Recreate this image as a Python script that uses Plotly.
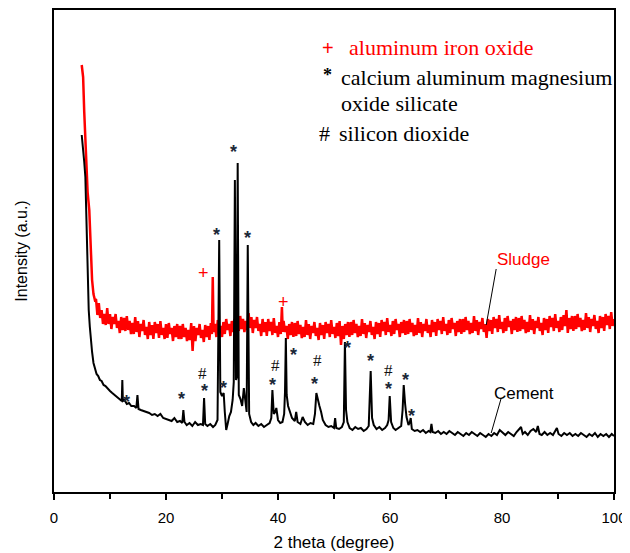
import plotly.graph_objects as go

# ---------------- data ----------------
sludge_x = [4.95, 5.2, 5.4, 5.65, 6.0, 6.3, 6.55, 6.8, 7.05, 7.3,
            7.5, 7.75, 8.0, 8.25, 8.5, 8.75, 9.0, 9.25, 9.5, 9.75,
            10.0, 10.25, 10.5, 10.75, 11.0, 11.25, 11.5, 11.75, 12.0, 12.25,
            12.5, 12.75, 13.0, 13.25, 13.5, 13.75, 14.0, 14.25, 14.5, 14.75,
            15.0, 15.25, 15.5, 15.75, 16.0, 16.25, 16.5, 16.75, 17.0, 17.25,
            17.5, 17.75, 18.0, 18.25, 18.5, 18.75, 19.0, 19.25, 19.5, 19.75,
            20.0, 20.25, 20.5, 20.75, 21.0, 21.25, 21.5, 21.75, 22.0, 22.25,
            22.5, 22.75, 23.0, 23.25, 23.5, 23.75, 24.0, 24.25, 24.5, 24.75,
            25.0, 25.25, 25.5, 25.75, 26.0, 26.25, 26.5, 26.75, 27.0, 27.25,
            27.5, 27.75, 28.0,
            28.2, 28.35, 28.5,
            28.75, 29.0, 29.25, 29.5, 29.75, 30.0, 30.25, 30.5,
            30.75, 31.0, 31.25, 31.5, 31.75, 32.0, 32.25, 32.5, 32.75, 33.0,
            33.25, 33.5, 33.75, 34.0, 34.25, 34.5, 34.75, 35.0, 35.25, 35.5,
            35.75, 36.0, 36.25, 36.5, 36.75, 37.0, 37.25, 37.5, 37.75, 38.0,
            38.25, 38.5, 38.75, 39.0, 39.25, 39.5, 39.75, 40.0, 40.25,
            40.5, 40.7, 40.85,
            41.0, 41.25, 41.5, 41.75, 42.0, 42.25, 42.5, 42.75, 43.0, 43.25,
            43.5, 43.75, 44.0, 44.25, 44.5, 44.75, 45.0, 45.25, 45.5, 45.75,
            46.0, 46.25, 46.5, 46.75, 47.0, 47.25, 47.5, 47.75, 48.0, 48.25,
            48.5, 48.75, 49.0, 49.25, 49.5, 49.75, 50.0, 50.25, 50.5, 50.75,
            51.0, 51.25, 51.5, 51.75, 52.0, 52.25, 52.5, 52.75, 53.0, 53.25,
            53.5, 53.75, 54.0, 54.25, 54.5, 54.75, 55.0, 55.25, 55.5, 55.75,
            56.0, 56.25, 56.5, 56.75, 57.0, 57.25, 57.5, 57.75, 58.0, 58.25,
            58.5, 58.75, 59.0, 59.25, 59.5, 59.75, 60.0, 60.25, 60.5, 60.75,
            61.0, 61.25, 61.5, 61.75, 62.0, 62.25, 62.5, 62.75, 63.0, 63.25,
            63.5, 63.75, 64.0, 64.25, 64.5, 64.75, 65.0, 65.25, 65.5, 65.75,
            66.0, 66.25, 66.5, 66.75, 67.0, 67.25, 67.5, 67.75, 68.0, 68.25,
            68.5, 68.75, 69.0, 69.25, 69.5, 69.75, 70.0, 70.25, 70.5, 70.75,
            71.0, 71.25, 71.5, 71.75, 72.0, 72.25, 72.5, 72.75, 73.0, 73.25,
            73.5, 73.75, 74.0, 74.25, 74.5, 74.75, 75.0, 75.25, 75.5, 75.75,
            76.0, 76.25, 76.5, 76.75, 77.0, 77.25, 77.5, 77.75, 78.0, 78.25,
            78.5, 78.75, 79.0, 79.25, 79.5, 79.75, 80.0, 80.25, 80.5, 80.75,
            81.0, 81.25, 81.5, 81.75, 82.0, 82.25, 82.5, 82.75, 83.0, 83.25,
            83.5, 83.75, 84.0, 84.25, 84.5, 84.75, 85.0, 85.25, 85.5, 85.75,
            86.0, 86.25, 86.5, 86.75, 87.0, 87.25, 87.5, 87.75, 88.0, 88.25,
            88.5, 88.75, 89.0, 89.25, 89.5, 89.75, 90.0, 90.25, 90.5, 90.75,
            91.0, 91.25, 91.5, 91.75, 92.0, 92.25, 92.5, 92.75, 93.0, 93.25,
            93.5, 93.75, 94.0, 94.25, 94.5, 94.75, 95.0, 95.25, 95.5, 95.75,
            96.0, 96.25, 96.5, 96.75, 97.0, 97.25, 97.5, 97.75, 98.0, 98.25,
            98.5, 98.75, 99.0, 99.25, 99.5, 99.75, 100.0]
sludge_y = [427, 415, 380, 349, 300, 282, 249, 212, 198, 192,
            193, 177, 189, 174, 182, 168, 178, 167, 184, 168,
            178, 163, 175, 168, 178, 164, 171, 159, 175, 162,
            174, 161, 176, 162, 171, 158, 169, 158, 175, 160,
            171, 155, 168, 161, 172, 157, 165, 153, 170, 157,
            167, 153, 170, 159, 168, 154, 171, 157, 164, 153,
            168, 154, 169, 158, 164, 151, 166, 155, 168, 153,
            166, 153, 168, 155, 164, 151, 162, 152, 169, 141,
            166, 151, 164, 157, 168, 154, 162, 150, 167, 155,
            166, 152, 169,
            158, 215, 160,
            168, 155, 172, 159, 166, 155, 170, 158,
            173, 162, 168, 156, 171, 160, 173, 159, 173, 161,
            176, 163, 173, 160, 171, 162, 179, 164, 175, 159,
            172, 164, 175, 161, 168, 156, 173, 160, 170, 156,
            173, 161, 170, 157, 174, 159, 166, 155, 170,
            158, 185, 160,
            171, 160, 166, 153, 168, 157, 170, 155, 169, 156,
            171, 158, 167, 154, 165, 155, 172, 157, 168, 153,
            166, 159, 170, 156, 164, 152, 169, 157, 167, 153,
            170, 159, 168, 155, 172, 158, 165, 154, 169, 156,
            171, 147, 166, 153, 168, 157, 170, 155, 170, 157,
            172, 159, 168, 155, 166, 156, 173, 158, 169, 154,
            167, 160, 171, 157, 165, 153, 170, 158, 169, 155,
            172, 161, 170, 157, 174, 160, 167, 156, 171, 158,
            173, 162, 168, 155, 170, 159, 172, 157, 171, 158,
            173, 160, 169, 156, 167, 157, 174, 159, 170, 155,
            168, 161, 173, 159, 167, 155, 172, 160, 170, 156,
            173, 162, 171, 158, 175, 161, 168, 157, 172, 159,
            174, 163, 169, 156, 171, 160, 173, 158, 173, 160,
            175, 162, 171, 158, 169, 159, 176, 161, 172, 157,
            170, 163, 174, 160, 168, 154, 173, 161, 172, 158,
            175, 164, 173, 160, 177, 163, 170, 159, 174, 161,
            176, 165, 171, 158, 173, 162, 175, 160, 174, 161,
            176, 163, 172, 159, 170, 160, 177, 162, 173, 158,
            171, 164, 175, 161, 169, 157, 174, 162, 173, 159,
            176, 165, 174, 161, 178, 164, 171, 160, 175, 162,
            177, 166, 182, 159, 174, 163, 176, 161, 176, 163,
            178, 165, 174, 161, 172, 162, 179, 164, 175, 160,
            173, 166, 177, 163, 171, 159, 176, 164, 175, 161,
            178, 167, 176, 163, 180, 166, 173]

cement_x = [4.95, 5.1, 5.25, 5.4, 5.6, 5.75, 5.9, 6.05, 6.2, 6.4, 6.55, 6.8, 7.05, 7.3, 7.6,
            7.9, 8.2, 8.5, 8.85, 9.2, 9.6, 10.0, 10.4, 10.8, 11.2, 11.6, 12.0, 12.1, 12.2, 12.3,
            12.6, 13.0, 13.4, 13.8, 14.3, 14.7, 14.9, 15.1, 15.5, 16.0, 16.5, 17.0, 17.5, 18.0,
            18.5, 19.0, 19.5, 20.0, 20.5, 21.0, 21.5, 22.0, 22.5, 22.9, 23.1, 23.3, 23.7, 24.2,
            24.7, 25.2, 25.7, 26.2, 26.6, 26.8, 27.0, 27.4, 27.9, 28.4, 28.8, 29.2, 29.5, 29.7,
            30.0, 30.3, 30.5, 30.75, 31.0, 31.3, 31.6, 31.9, 32.1, 32.3, 32.5, 32.65, 32.8, 33.0,
            33.3, 33.6, 33.9, 34.15, 34.4, 34.6, 34.85, 35.2, 35.6, 36.0, 36.5, 37.0, 37.5, 38.0,
            38.5, 38.8, 39.0, 39.25, 39.5, 39.7, 40.0, 40.4, 40.8, 41.1, 41.25, 41.4, 41.55, 41.8,
            42.1, 42.5, 43.0, 43.25, 43.5, 44.0, 44.4, 44.8, 45.3, 45.8, 46.3, 46.6, 46.85, 47.1,
            47.4, 47.7, 48.0, 48.5, 49.0, 49.5, 50.0, 50.2, 50.4, 50.9, 51.4, 51.75, 51.95, 52.15,
            52.4, 52.8, 53.3, 53.8, 54.3, 54.8, 55.3, 55.8, 56.2, 56.55, 56.8, 57.1, 57.6, 58.1,
            58.6, 59.1, 59.5, 59.75, 59.95, 60.2, 60.6, 61.0, 61.5, 62.0, 62.25, 62.45, 62.7, 62.95,
            63.3, 63.55, 63.7, 63.9, 64.4, 64.9, 65.4, 65.9, 66.4, 66.9, 67.2, 67.4, 67.6, 68.1,
            68.6, 69.1, 69.6, 70.1, 70.6, 71.1, 71.6, 72.1, 72.6, 73.1, 73.6, 74.1, 74.6, 75.1,
            75.6, 76.1, 76.6, 77.1, 77.6, 78.1, 78.6, 79.1, 79.6, 80.1, 80.6, 81.1, 81.6, 82.1,
            82.6, 83.1, 83.4, 83.7, 84.1, 84.6, 85.1, 85.6, 86.1, 86.4, 86.7, 87.1, 87.6, 88.1,
            88.6, 89.1, 89.5, 89.8, 90.1, 90.6, 91.1, 91.6, 92.1, 92.6, 93.1, 93.6, 94.1, 94.6,
            95.1, 95.6, 96.1, 96.6, 97.1, 97.6, 98.1, 98.6, 99.1, 99.6, 100.0]
cement_y = [357, 350, 340, 330, 315, 275, 235, 205, 182, 165, 152, 140, 129, 124, 118,
            116, 112, 111, 107, 106, 103, 101, 99, 97, 95, 93, 92, 91, 112, 91,
            92, 88, 89, 86, 86, 84, 97, 83, 82, 81, 80, 79, 77, 78,
            76, 78, 74, 73, 72, 71, 74, 70, 71, 69, 82, 70, 67, 69,
            66, 70, 67, 68, 67, 94, 68, 66, 68, 65, 67, 72, 252, 100,
            96, 99, 80, 62, 68, 76, 80, 92, 110, 312, 112, 115, 329, 97,
            93, 86, 104, 88, 80, 247, 78, 70, 67, 69, 66, 68, 65, 67,
            69, 74, 102, 78, 80, 84, 72, 69, 70, 78, 100, 154, 97, 86,
            80, 74, 71, 80, 70, 68, 75, 70, 67, 69, 68, 78, 99, 92,
            86, 80, 72, 67, 65, 66, 64, 74, 64, 63, 65, 70, 150, 82,
            70, 64, 62, 65, 63, 64, 61, 63, 66, 121, 74, 67, 63, 65,
            62, 64, 67, 72, 96, 70, 64, 62, 64, 66, 82, 107, 88, 75,
            67, 70, 74, 63, 61, 62, 60, 62, 59, 61, 60, 68, 60, 59,
            61, 58, 60, 58, 61, 59, 57, 60, 58, 56, 59, 57, 60, 58,
            56, 59, 57, 55, 58, 56, 59, 57, 62, 59, 57, 60, 58, 56,
            60, 63, 65, 58, 60, 57, 61, 63, 60, 66, 58, 57, 60, 57,
            59, 57, 61, 64, 58, 56, 59, 57, 59, 56, 58, 56, 59, 57,
            55, 58, 56, 59, 55, 58, 56, 58, 55, 58, 56]

# peak markers (2 theta, height)
star_x = [12.9, 22.7, 26.9, 29.1, 30.3, 32.1, 34.6, 39.0, 42.8, 46.6, 52.4, 56.6, 59.7, 62.8, 63.8]
star_y = [94, 97, 105, 261, 108, 344, 258, 111, 141, 112, 148, 135, 107, 116, 80]
hash_x = [26.5, 39.6, 47.1, 59.7]
hash_y = [120, 128, 133, 123]
plus_x = [26.7, 41.0]
plus_y = [220, 191]

legend_lines = ["aluminum iron oxide", "calcium aluminum magnesium", "oxide silicate", "silicon dioxide"]
x_ticks = [0, 20, 40, 60, 80, 100]
x_minor = [10, 30, 50, 70, 90]

assert len(sludge_x) == len(sludge_y)
assert len(cement_x) == len(cement_y)

# ---------------- figure ----------------
RED = "#ff0000"
fig = go.Figure()
fig.add_trace(go.Scatter(x=sludge_x, y=sludge_y, mode="lines",
                         line=dict(color=RED, width=2.5), hoverinfo="skip"))
fig.add_trace(go.Scatter(x=cement_x, y=cement_y, mode="lines",
                         line=dict(color="black", width=2.0), hoverinfo="skip"))

ann = []
for xv, yv in zip(star_x, star_y):
    ann.append(dict(x=xv, y=yv, text="<b>*</b>", showarrow=False, yshift=-4,
                    font=dict(family="Liberation Sans", size=18, color="#1b2838")))
for xv, yv in zip(hash_x, hash_y):
    ann.append(dict(x=xv, y=yv, text="#", showarrow=False, yshift=-1,
                    font=dict(family="Liberation Serif", size=17, color="#111111")))
for xv, yv in zip(plus_x, plus_y):
    ann.append(dict(x=xv, y=yv, text="+", showarrow=False, yshift=-1,
                    font=dict(family="Liberation Sans", size=18, color=RED)))

serif = dict(family="Liberation Serif", size=22, color="black")
# legend block
ann.append(dict(x=49.0, y=445, text="+", font=dict(family="Liberation Sans", size=20, color=RED),
                xanchor="center", yanchor="middle", showarrow=False, yshift=-1))
ann.append(dict(x=52.3, y=445, text=legend_lines[0], font=dict(family="Liberation Serif", size=22, color=RED),
                xanchor="left", yanchor="middle", showarrow=False))
ann.append(dict(x=48.75, y=421, text="<b>*</b>", font=dict(family="Liberation Serif", size=18, color="black"),
                xanchor="center", yanchor="middle", showarrow=False, yshift=-4))
ann.append(dict(x=50.95, y=415, text=legend_lines[1], font=serif,
                xanchor="left", yanchor="middle", showarrow=False))
ann.append(dict(x=50.95, y=389, text=legend_lines[2], font=serif,
                xanchor="left", yanchor="middle", showarrow=False))
ann.append(dict(x=48.3, y=359, text="#", font=serif,
                xanchor="center", yanchor="middle", showarrow=False))
ann.append(dict(x=50.5, y=359, text=legend_lines[3], font=serif,
                xanchor="left", yanchor="middle", showarrow=False))
# series labels
ann.append(dict(x=83.9, y=233, text="Sludge", font=dict(family="Liberation Sans", size=17, color=RED),
                showarrow=False))
ann.append(dict(x=83.9, y=99, text="Cement", font=dict(family="Liberation Sans", size=17, color="black"),
                showarrow=False))

shapes = [
    dict(type="line", x0=78.96, y0=223, x1=77.18, y1=167, line=dict(color="black", width=1)),
    dict(type="line", x0=79.86, y0=94, x1=78.07, y1=59, line=dict(color="black", width=1)),
]

# the page body adds an 8 px offset, so the figure is sized to fill the rest of the window
fig.update_layout(
    width=622, height=545,
    margin=dict(l=46, r=16, t=2, b=61, autoexpand=False),
    paper_bgcolor="white", plot_bgcolor="white",
    showlegend=False,
    annotations=ann, shapes=shapes,
    font=dict(family="Liberation Sans", color="black"),
)
fig.update_xaxes(range=[0, 100], tickvals=x_ticks, ticks="outside", ticklen=6, tickwidth=2,
                 tickcolor="black", showline=True, linewidth=2, linecolor="black", mirror=True,
                 showgrid=False, zeroline=False, automargin=False, ticklabelstandoff=5,
                 minor=dict(tickvals=x_minor, ticks="outside", ticklen=5, tickwidth=2,
                            tickcolor="black", showgrid=False),
                 tickfont=dict(family="Liberation Sans", size=15, color="black"),
                 title=dict(text="2 theta (degree)", font=dict(family="Liberation Sans", size=17),
                            standoff=11))
fig.update_yaxes(range=[0, 482], showticklabels=False, ticks="", showline=True, linewidth=2,
                 linecolor="black", mirror=True, showgrid=False, zeroline=False, automargin=False,
                 title=dict(text="Intensity (a.u.)", font=dict(family="Liberation Sans", size=16),
                            standoff=20))

fig.write_html("out.html")
